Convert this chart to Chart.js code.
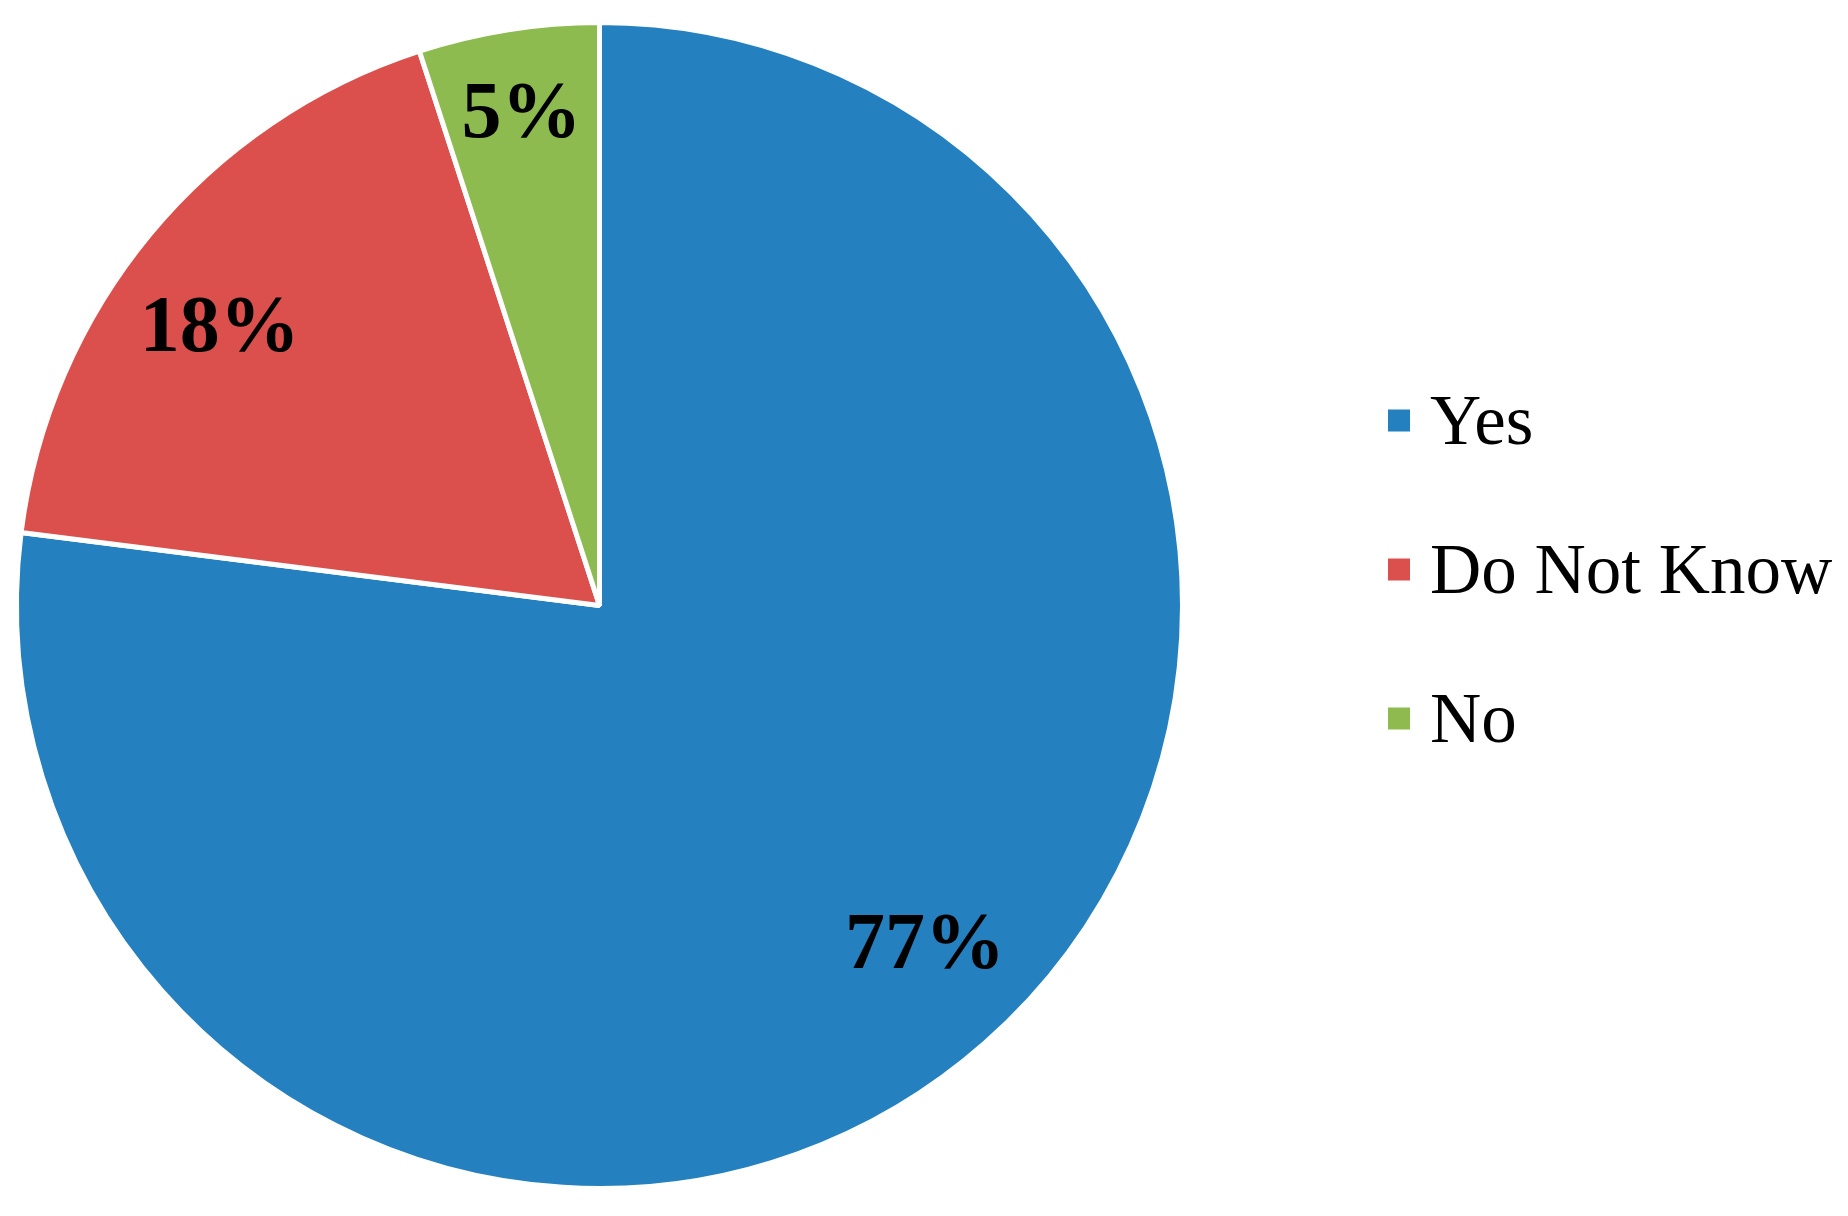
<!DOCTYPE html>
<html>
<head>
<meta charset="utf-8">
<script src="https://cdn.jsdelivr.net/npm/chart.js@4.4.1/dist/chart.umd.min.js"></script>
<style>
  html, body { margin: 0; padding: 0; background: #fff; }
  #wrap { width: 1848px; height: 1216px; }
</style>
</head>
<body>
<div id="wrap"><canvas id="pieChart"></canvas></div>
<script>
// ==================== DATA ====================
const answers = ['Yes', 'Do Not Know', 'No'];
const shares = [77, 18, 5];
const sliceColors = ['#2580BF', '#DB504D', '#8DBB4F'];

// label placement: share of the radius, and a small turn (deg) off the bisector
const labelRadius = [0.805, 0.808, 0.856];
const labelTurn = [-2.5, -3.3, 0];

// ==================== PLUGINS ====================
const sliceLabels = {
  id: 'sliceLabels',
  afterDatasetsDraw(chart) {
    const { ctx } = chart;
    const arcs = chart.getDatasetMeta(0).data;
    ctx.save();
    ctx.font = 'bold 80px "Liberation Serif", "Times New Roman", serif';
    ctx.fillStyle = '#000';
    ctx.textAlign = 'center';
    ctx.textBaseline = 'middle';
    arcs.forEach((arc, i) => {
      const { x, y, startAngle, endAngle, outerRadius } = arc.getProps(['x', 'y', 'startAngle', 'endAngle', 'outerRadius'], true);
      const mid = (startAngle + endAngle) / 2 + labelTurn[i] * Math.PI / 180;
      const r = outerRadius * labelRadius[i];
      ctx.fillText(shares[i] + '%', x + Math.cos(mid) * r, y + Math.sin(mid) * r + 4);
    });
    ctx.restore();
  }
};

// legend drawn on the right, Excel style
const sideLegend = {
  id: 'sideLegend',
  afterDraw(chart) {
    const { ctx, chartArea } = chart;
    const cy = (chartArea.top + chartArea.bottom) / 2;
    const boxX = chartArea.right + 203;
    const box = 22;
    const gap = 149;
    ctx.save();
    ctx.font = '71px "Liberation Serif", "Times New Roman", serif';
    ctx.textBaseline = 'alphabetic';
    ctx.textAlign = 'left';
    answers.forEach((name, i) => {
      const rowY = cy - 185 + i * gap;
      ctx.fillStyle = sliceColors[i];
      ctx.fillRect(boxX, rowY - box / 2, box, box);
      ctx.fillStyle = '#000';
      ctx.fillText(name, boxX + 42, rowY + 23);
    });
    ctx.restore();
  }
};

// ==================== PIE CHART ====================
new Chart(document.getElementById('pieChart'), {
  type: 'pie',
  data: {
    labels: answers,
    datasets: [{
      data: shares,
      backgroundColor: sliceColors,
      borderColor: '#fff',
      borderWidth: 5,
      hoverOffset: 0
    }]
  },
  options: {
    responsive: true,
    maintainAspectRatio: false,
    animation: false,
    layout: { padding: { top: 20, bottom: 25, left: 14, right: 663 } },
    plugins: {
      legend: { display: false },
      tooltip: { enabled: false }
    }
  },
  plugins: [sliceLabels, sideLegend]
});
</script>
</body>
</html>
